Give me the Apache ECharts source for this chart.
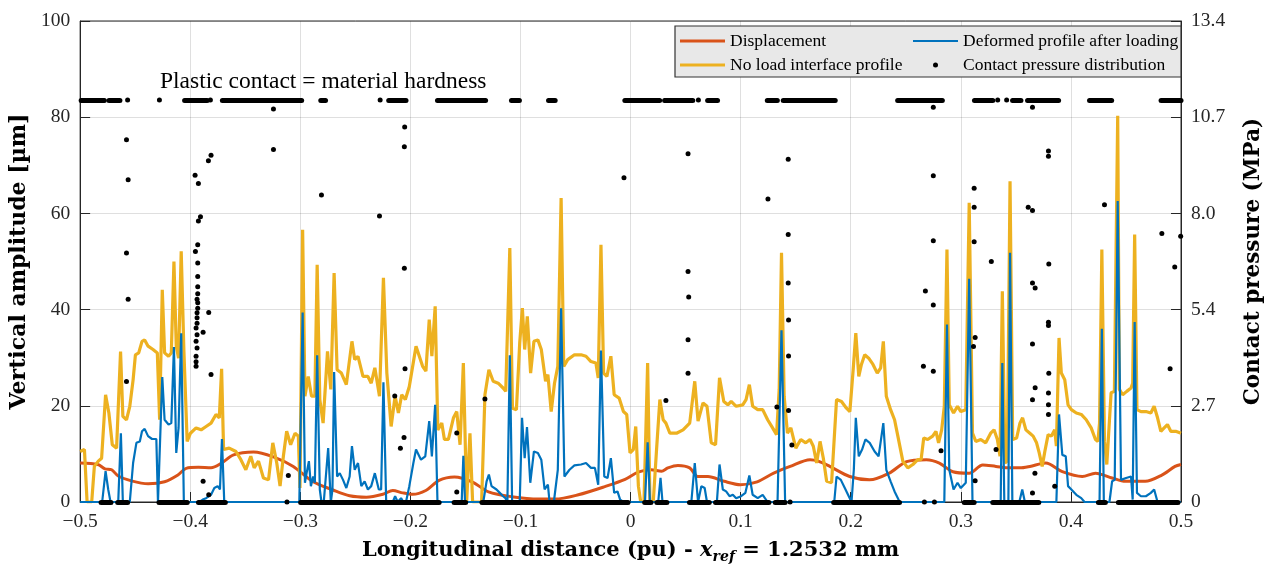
<!DOCTYPE html>
<html><head><meta charset="utf-8">
<script src="https://cdn.jsdelivr.net/npm/echarts@6/dist/echarts.min.js"></script>
<style>html,body{margin:0;padding:0;background:#fff}#c{width:1272px;height:571px}</style>
</head><body><div id="c"></div>
<script>
// ---- data (x in pu, amplitude in µm, pressure in MPa) ----
const displacement = [[-0.5,8.1],[-0.484,7.8],[-0.4775,6.9],[-0.4714,6.7],[-0.4654,5.4],[-0.4534,4.4],[-0.4383,3.8],[-0.4233,4.2],[-0.4112,5.6],[-0.4037,7.0],[-0.3926,7.2],[-0.3811,7.1],[-0.3721,8.0],[-0.3606,9.8],[-0.3425,10.4],[-0.3245,9.4],[-0.3064,7.4],[-0.2883,4.2],[-0.2703,2.5],[-0.2552,1.3],[-0.240,1.0],[-0.225,1.6],[-0.216,2.4],[-0.207,1.9],[-0.198,1.6],[-0.186,2.4],[-0.174,4.5],[-0.160,5.2],[-0.144,4.2],[-0.129,2.1],[-0.108,1.1],[-0.0835,0.6],[-0.0685,0.6],[-0.0474,1.5],[-0.0233,3.2],[-0.005,4.7],[0.0068,6.2],[0.0185,6.7],[0.0281,6.4],[0.0339,7.1],[0.043,7.6],[0.0537,7.1],[0.061,5.3],[0.0703,5.3],[0.085,4.3],[0.0998,3.6],[0.115,4.2],[0.130,6.0],[0.145,7.4],[0.163,8.8],[0.1705,8.5],[0.181,7.4],[0.199,5.3],[0.217,4.6],[0.235,6.0],[0.2507,8.4],[0.2687,8.8],[0.2805,8.1],[0.2928,6.3],[0.3076,6.0],[0.3199,7.7],[0.3319,7.4],[0.3447,7.1],[0.3537,7.1],[0.3627,7.4],[0.3771,8.1],[0.3922,6.3],[0.4103,5.3],[0.4223,6.0],[0.4374,5.0],[0.4494,4.3],[0.4675,4.3],[0.4826,5.6],[0.4946,7.4],[0.5,7.8]];

const noLoadProfile = [[-0.5,10.5],[-0.4961,10.9],[-0.4937,0],[-0.4895,0],[-0.4871,7.4],[-0.4835,8.5],[-0.4805,9.1],[-0.4769,22.3],[-0.4739,18.5],[-0.4708,11.9],[-0.4669,11.2],[-0.4654,11.2],[-0.4633,31.3],[-0.4612,17.8],[-0.4579,17.1],[-0.4549,19.9],[-0.4519,25.4],[-0.4498,30.6],[-0.4468,31.0],[-0.4438,33.4],[-0.4414,33.7],[-0.4383,32.4],[-0.4338,31.7],[-0.4299,31.0],[-0.4278,17.1],[-0.4254,44.1],[-0.4233,31.0],[-0.4197,30.3],[-0.4172,31.0],[-0.4148,50.0],[-0.4127,32.4],[-0.4106,29.9],[-0.4082,52.1],[-0.4058,31.7],[-0.4028,12.6],[-0.3998,14.3],[-0.3947,15.4],[-0.3901,15.0],[-0.3856,15.7],[-0.3811,16.4],[-0.3766,18.2],[-0.3736,17.5],[-0.3715,27.7],[-0.3697,10.9],[-0.3646,11.2],[-0.3585,10.5],[-0.3540,8.8],[-0.3495,6.7],[-0.3450,9.5],
[-0.3419,7.1],[-0.3380,8.5],[-0.3335,5.0],[-0.3289,4.6],[-0.3250,12.3],[-0.3214,8.1],[-0.3184,3.3],[-0.3154,9.5],[-0.3124,14.7],[-0.3088,11.9],[-0.3048,14.3],[-0.3018,13.7],[-0.3003,2.9],[-0.2979,56.6],[-0.2958,22.0],[-0.2928,26.1],[-0.2898,22.0],[-0.2868,22.0],[-0.2847,49.3],[-0.2823,21.3],[-0.2793,16.4],[-0.2753,31.3],[-0.2723,23.4],[-0.2693,47.6],[-0.2666,27.5],[-0.2627,26.8],[-0.2582,24.4],[-0.2531,33.4],[-0.2506,29.6],[-0.2476,30.3],[-0.2431,26.1],[-0.2386,26.1],[-0.2356,24.7],[-0.2323,27.9],[-0.2281,22.0],[-0.2245,46.6],[-0.2214,26.8],[-0.2175,15.7],[-0.2139,22.0],[-0.2109,18.5],[-0.2079,22.3],[-0.2046,21.3],[-0.2010,24.0],[-0.1949,32.4],[-0.1889,28.2],[-0.1859,27.2],[-0.1829,37.9],[-0.1805,30.3],[-0.1775,40.7],
[-0.1751,15.0],[-0.1715,16.4],[-0.1691,13.0],[-0.1655,13.0],[-0.1609,17.5],[-0.1579,18.8],[-0.1549,11.9],[-0.1519,28.9],[-0.1489,0],[-0.1459,14.3],[-0.1435,0],[-0.1353,0],[-0.1323,22.3],[-0.1287,27.5],[-0.1248,25.1],[-0.1203,24.7],[-0.1158,23.7],[-0.1134,23.0],[-0.1097,52.8],[-0.1073,19.5],[-0.1037,19.2],[-0.1007,33.1],[-0.0983,40.3],[-0.0962,31.7],[-0.0938,38.6],[-0.0908,26.8],[-0.0878,33.4],[-0.0842,33.7],[-0.0811,31.7],[-0.0772,25.1],[-0.0751,26.5],[-0.0721,18.8],[-0.0691,24.7],[-0.0661,28.2],[-0.0631,63.2],[-0.0607,28.2],[-0.0571,29.6],[-0.0510,30.6],[-0.0450,30.6],[-0.0405,30.3],[-0.0360,29.2],[-0.0315,28.9],[-0.0294,25.8],[-0.0269,53.5],[-0.0245,26.8],[-0.0215,26.1],[-0.0179,30.3],[-0.0149,22.3],[-0.0104,21.6],[-0.0065,18.8],
[-0.0035,18.2],[-0.0005,10.2],[0.0025,10.9],[0.0047,15.7],[0.0071,3.3],[0.0092,0],[0.0122,0],[0.0155,28.9],[0.0176,0],[0.0206,0],[0.0236,10.9],[0.0266,21.3],[0.0296,17.1],[0.0321,16.4],[0.0357,14.3],[0.0417,14.3],[0.0477,15.0],[0.0537,16.4],[0.0583,25.1],[0.0613,16.8],[0.0658,20.6],[0.0694,19.9],[0.0733,12.3],[0.0772,11.9],[0.0808,25.8],[0.0847,20.9],[0.0884,20.2],[0.0914,20.9],[0.0959,19.9],[0.1019,20.2],[0.1049,21.3],[0.1079,24.4],[0.1109,19.9],[0.1155,19.2],[0.1200,19.2],[0.1245,17.1],[0.1290,15.4],[0.1326,14.0],[0.1350,23.4],[0.1371,51.8],[0.1395,22.0],[0.1425,14.3],[0.1456,15.4],[0.1501,11.2],[0.1546,13.0],[0.1591,12.3],
[0.1630,13.0],[0.1660,11.6],[0.1690,8.1],[0.1721,12.6],[0.1751,9.1],[0.1781,4.3],[0.1826,4.0],[0.1871,21.3],[0.1916,20.9],[0.1961,19.5],[0.1992,18.8],[0.2022,27.5],[0.2046,35.1],[0.2073,26.1],[0.2097,28.6],[0.2127,30.6],[0.2163,29.9],[0.2202,28.6],[0.2241,26.8],[0.2272,27.9],[0.2296,33.4],[0.2323,22.0],[0.2362,19.2],[0.2398,17.1],[0.2428,13.7],[0.2473,8.5],[0.2518,7.1],[0.2564,7.8],[0.2609,8.8],[0.2639,8.8],[0.2663,13.3],[0.2699,13.0],[0.2744,13.7],[0.2774,14.7],[0.2798,12.3],[0.2826,15.0],[0.2850,19.9],[0.2874,52.5],[0.2895,20.2],[0.2934,18.5],[0.2970,19.9],[0.3000,18.8],[0.3045,19.2],[0.3076,62.2],[0.3106,14.3],[0.3136,12.6],[0.3181,13.0],[0.3226,12.3],[0.3271,14.3],
[0.3302,15.0],[0.3332,13.0],[0.3356,9.5],[0.3377,43.8],[0.3401,8.1],[0.3422,8.5],[0.3447,66.7],[0.3471,13.0],[0.3507,13.3],[0.3537,16.4],[0.3561,17.5],[0.3591,15.0],[0.3627,14.3],[0.3657,13.7],[0.3688,12.3],[0.3712,10.2],[0.3739,7.4],[0.3763,10.5],[0.3793,14.0],[0.3823,13.7],[0.3853,15.0],[0.3868,11.6],[0.3892,34.1],[0.3913,26.8],[0.3944,25.4],[0.3974,20.2],[0.4004,19.2],[0.4049,18.5],[0.4094,18.2],[0.4139,17.1],[0.4184,15.4],[0.4223,13.0],[0.4245,12.6],[0.4260,16.4],[0.4281,52.5],[0.4305,12.6],[0.4326,7.8],[0.4344,7.4],[0.4365,22.7],[0.4395,23.0],[0.4425,80.3],[0.4440,23.4],[0.4470,22.3],[0.4507,23.0],[0.4546,23.7],[0.4561,24.7],[0.4579,55.6],[0.4600,19.2],[0.4636,18.8],[0.4681,18.8],[0.4726,18.5],[0.4756,19.9],[0.4787,17.5],[0.4817,14.7],[0.4847,15.4],[0.4877,16.1],[0.4907,14.7],[0.4952,14.7],[0.5,14.3]];

const deformedProfile = [[-0.5,0],[-0.4800,0],[-0.4769,6.4],[-0.4745,2.6],[-0.4724,0],[-0.4654,0],[-0.4630,14.3],[-0.4612,0],[-0.4549,0],[-0.4519,8.1],[-0.4489,12.3],[-0.4458,12.6],[-0.4438,14.7],[-0.4414,15.2],[-0.4383,13.7],[-0.4347,13.1],[-0.4308,13.1],[-0.4293,0],[-0.4278,0],[-0.4254,26.0],[-0.4233,17.1],[-0.4197,16.1],[-0.4172,16.4],[-0.4148,32.2],[-0.4127,10.2],[-0.4106,15.4],[-0.4082,35.1],[-0.4058,0],[-0.3917,0],[-0.3886,0.5],[-0.3856,0.8],[-0.3811,1.5],[-0.3781,2.9],[-0.3751,3.3],[-0.3730,2.6],[-0.3712,13.1],[-0.3691,0],
[-0.3009,0],[-0.2979,39.4],[-0.2958,4.0],[-0.2943,6.0],[-0.2922,8.5],[-0.2904,3.3],[-0.2883,5.3],[-0.2868,4.0],[-0.2847,30.5],[-0.2823,2.6],[-0.2808,0],[-0.2787,0],[-0.2747,11.2],[-0.2723,0],[-0.2708,2.6],[-0.2693,27.0],[-0.2666,5.3],[-0.2642,6.0],[-0.2612,4.6],[-0.2582,2.9],[-0.2552,5.3],[-0.2531,11.6],[-0.2506,6.7],[-0.2476,8.1],[-0.2446,3.3],[-0.2416,4.3],[-0.2386,2.6],[-0.2356,3.3],[-0.2323,6.0],[-0.2287,2.6],[-0.2266,2.6],[-0.2245,24.9],[-0.2220,0],[-0.2160,0],[-0.2139,1.2],[-0.2115,0],[-0.2085,0.8],[-0.2064,0],[-0.2040,0],[-0.2010,3.3],[-0.1973,8.1],[-0.1949,10.9],[-0.1904,8.8],[-0.1865,9.5],[-0.1829,16.8],[-0.1805,9.5],[-0.1775,20.2],[-0.1754,0],
[-0.1534,0],[-0.1519,9.6],[-0.1504,0],[-0.1338,0],[-0.1308,4.3],[-0.1287,5.7],[-0.1263,3.3],[-0.1218,2.6],[-0.1188,1.9],[-0.1158,1.2],[-0.1137,0.8],[-0.1119,0],[-0.1097,30.5],[-0.1076,0],[-0.1007,0],[-0.0986,17.5],[-0.0962,9.1],[-0.0941,15.6],[-0.0911,4.0],[-0.0878,10.5],[-0.0842,10.2],[-0.0811,8.8],[-0.0781,2.6],[-0.0751,3.6],[-0.0736,0],[-0.0697,0],[-0.0661,6.7],[-0.0631,40.3],[-0.0601,5.3],[-0.0555,6.7],[-0.0510,7.6],[-0.0450,7.8],[-0.0405,8.1],[-0.0360,7.1],[-0.0324,7.1],[-0.0294,3.6],[-0.0269,31.5],[-0.0239,5.3],[-0.0209,5.0],[-0.0179,9.1],[-0.0149,1.9],[-0.0119,2.2],[-0.0095,0.5],[-0.0065,0],
[0.0131,0],[0.0155,12.4],[0.0176,0],[0.0251,0],[0.0272,5.0],[0.0290,0],[0.0552,0],[0.0583,8.1],[0.0613,0],[0.0643,3.3],[0.0673,2.9],[0.0694,0],[0.0784,0],[0.0808,7.8],[0.0838,2.6],[0.0868,2.2],[0.0899,1.2],[0.0929,1.5],[0.0959,0.8],[0.1004,1.2],[0.1043,1.9],[0.1079,5.5],[0.1109,1.5],[0.1155,0.8],[0.1200,1.5],[0.1245,0],[0.1335,0],[0.1371,35.7],[0.1404,0],
[0.1850,0],[0.1871,5.3],[0.1910,4.6],[0.1946,2.9],[0.1982,1.2],[0.2007,0],[0.2028,6.7],[0.2046,17.5],[0.2073,9.5],[0.2103,10.9],[0.2133,13.0],[0.2172,12.3],[0.2217,10.5],[0.2253,9.5],[0.2296,16.4],[0.2323,6.7],[0.2362,4.3],[0.2398,2.2],[0.2428,0.8],[0.2443,0],[0.2850,0],[0.2874,36.9],[0.2895,6.7],[0.2934,2.6],[0.2970,4.0],[0.3000,2.9],[0.3045,4.0],[0.3076,46.4],[0.3106,0],
[0.3362,0],[0.3377,28.9],[0.3395,0],[0.3432,0],[0.3447,51.8],[0.3468,0],[0.3531,0],[0.3558,2.6],[0.3582,0],[0.3868,0],[0.3892,18.2],[0.3922,9.8],[0.3953,9.5],[0.3974,3.3],[0.4004,2.6],[0.4049,1.5],[0.4094,0.8],[0.4124,0],[0.4260,0],[0.4281,36.0],[0.4299,0],[0.4350,0],[0.4374,4.3],[0.4398,4.6],[0.4425,62.6],[0.4455,4.6],[0.4501,5.0],[0.4546,5.3],[0.4561,0.5],[0.4579,37.4],[0.4600,1.9],[0.4636,1.2],[0.4681,1.2],[0.4726,1.9],[0.4756,2.6],[0.4787,0],[0.5,0]];

// contact pressure: isolated samples [x, MPa]
const pressurePoints = [[-0.4579,10.09],[-0.4564,8.98],[-0.4579,6.94],[-0.4564,5.65],[-0.4579,3.36],
[-0.3956,9.10],[-0.3926,8.87],[-0.3835,9.51],[-0.3811,9.66],[-0.3907,7.95],[-0.3926,7.83],[-0.3932,7.17],[-0.3953,6.98],[-0.3932,6.66],[-0.3932,6.28],[-0.3932,6.00],[-0.3932,5.80],[-0.3938,5.65],[-0.3932,5.55],[-0.3932,5.40],[-0.3938,5.27],[-0.3938,5.13],[-0.3938,4.98],[-0.3947,4.85],[-0.3938,4.66],[-0.3947,4.48],[-0.3938,4.29],[-0.3947,4.06],[-0.3947,3.91],[-0.3947,3.78],
[-0.3832,5.28],[-0.3883,4.73],[-0.3811,3.55],[-0.3883,0.58],[-0.3832,0.20],
[-0.3244,10.95],[-0.3244,9.82],[-0.2808,8.55],[-0.2281,7.97],[-0.2052,10.45],[-0.2055,9.90],[-0.2055,6.51],[-0.2049,3.71],[-0.2142,2.95],[-0.2058,1.80],[-0.2091,1.50],[-0.3109,0.74],
[-0.1579,1.92],[-0.1579,0.28],[-0.1323,2.87],[-0.0060,9.03],
[0.0522,9.70],[0.0522,6.42],[0.0528,5.71],[0.0522,4.52],[0.0522,3.59],[0.0321,2.83],[0.1248,8.44],[0.1432,9.55],[0.1432,7.45],[0.1432,6.10],[0.1435,5.07],[0.1435,4.07],[0.1435,2.55],[0.1329,2.65],[0.1465,1.59],
[0.2750,11.0],[0.2750,9.09],[0.2750,7.28],[0.2678,5.88],[0.2750,5.49],[0.2660,3.78],[0.2750,3.64],[0.2820,1.43],[0.3121,8.74],[0.3121,8.21],[0.3121,7.25],[0.3277,6.70],[0.3130,4.58],[0.3115,4.33],[0.3130,0.59],
[0.3320,1.46],[0.3612,8.21],[0.3651,8.12],[0.3651,11.0],[0.3796,9.78],[0.3796,9.63],[0.3799,6.63],[0.3651,6.10],[0.3675,5.96],[0.3796,5.01],[0.3796,4.92],[0.3651,4.40],[0.3799,3.59],[0.3675,3.18],[0.3651,2.85],[0.3796,3.04],[0.3796,2.71],[0.3796,2.44],[0.3673,0.80],[0.3651,0.25],[0.3853,0.44],[0.4305,8.28],[0.4826,7.48],[0.4943,6.55],[0.4997,7.40],[0.4901,3.71],
[-0.4569,11.2],[-0.4280,11.2],[-0.3817,11.2],[-0.2275,11.2],[0.0616,11.2],[0.3335,11.2],[0.3416,11.2],
[-0.3121,0],[0.1449,0],[0.2669,0],[0.2760,0]];
const hardness = 11.2; // plastic contact level, MPa
const plasticSegments = [[-0.4991,-0.4780],[-0.4738,-0.4639],[-0.4051,-0.3846],[-0.3708,-0.2988],[-0.2814,-0.2771],[-0.2197,-0.2040],[-0.1754,-0.1317],[-0.1082,-0.1010],[-0.0745,-0.0685],[-0.0052,0.0264],[0.0309,0.0565],[0.0700,0.0790],[0.1242,0.1333],[0.1387,0.1859],[0.2426,0.2832],[0.3124,0.3290],[0.3470,0.3546],[0.3606,0.3888],[0.4169,0.4370],[0.4819,0.5]];
const zeroSegments = [[-0.4810,-0.4720],[-0.4659,-0.4569],[-0.4284,-0.4027],[-0.3925,-0.3681],[-0.2997,-0.1739],[-0.1603,-0.1498],[-0.1350,-0.0023],[0.0128,0.0185],[0.0239,0.0330],[0.0535,0.0715],[0.0772,0.1257],[0.1314,0.1404],[0.1845,0.2443],[0.3031,0.3121],[0.3290,0.3708],[0.4250,0.4313],[0.4431,0.4973]];

const serif = 'Liberation Serif';
const boldFont = 'DejaVu Serif';
const axisColor = '#262626';
const fmtX = v => Math.abs(v) < 1e-9 ? '0' : v.toFixed(1).replace('-', '\u2212');
const lineIcon = w => 'path://M0,0 L45,0 L45,' + w + ' L0,' + w + ' Z';

const chart = echarts.init(document.getElementById('c'), null, {renderer: 'canvas'});
const bandLine = (segs, v) => segs.map(s => ({coords: [[s[0], v], [s[1], v]]}));

chart.setOption({
  animation: false,
  backgroundColor: '#fff',
  grid: {left: 79, right: 86, top: 21, bottom: 69, show: true, borderColor: axisColor, borderWidth: 1, backgroundColor: 'transparent'},
  xAxis: {
    type: 'value', min: -0.5, max: 0.5, interval: 0.1,
    axisLine: {show: true, onZero: false, lineStyle: {color: axisColor}},
    axisTick: {show: true, inside: true, length: 10, lineStyle: {color: axisColor}},
    axisLabel: {formatter: fmtX, color: axisColor, fontFamily: serif, fontSize: 19.5, margin: 10},
    splitLine: {show: true, lineStyle: {color: 'rgba(38,38,38,0.15)'}},
    name: '{a|Longitudinal distance (pu) - }{i|x}{s|ref}{a| = 1.2532 mm}',
    nameLocation: 'middle', nameGap: 36,
    nameTextStyle: {
      rich: {
        a: {fontFamily: boldFont, fontWeight: 'bold', fontSize: 21, color: '#000'},
        i: {fontFamily: boldFont, fontWeight: 'bold', fontStyle: 'italic', fontSize: 21, color: '#000'},
        s: {fontFamily: boldFont, fontWeight: 'bold', fontStyle: 'italic', fontSize: 14, color: '#000', padding: [12, 0, 0, 0]}
      }
    }
  },
  yAxis: [{
    type: 'value', min: 0, max: 100, interval: 20, position: 'left',
    axisLine: {show: true, onZero: false, lineStyle: {color: axisColor}},
    axisTick: {show: true, inside: true, length: 10, lineStyle: {color: axisColor}},
    axisLabel: {color: axisColor, fontFamily: serif, fontSize: 19.5, margin: 10},
    splitLine: {show: true, lineStyle: {color: 'rgba(38,38,38,0.15)'}},
    name: 'Vertical amplitude [µm]', nameLocation: 'middle', nameGap: 42, nameRotate: 90,
    nameTextStyle: {fontFamily: boldFont, fontWeight: 'bold', fontSize: 22, color: '#000'}
  }, {
    type: 'value', min: 0, max: 13.4, interval: 2.68, position: 'right',
    axisLine: {show: true, onZero: false, lineStyle: {color: axisColor}},
    axisTick: {show: true, inside: true, length: 10, lineStyle: {color: axisColor}},
    axisLabel: {color: axisColor, fontFamily: serif, fontSize: 19.5, margin: 10, formatter: v => v === 0 ? '0' : v.toFixed(1)},
    splitLine: {show: false},
    name: 'Contact pressure (MPa)', nameLocation: 'middle', nameGap: 61, nameRotate: 90,
    nameTextStyle: {fontFamily: boldFont, fontWeight: 'bold', fontSize: 21.5, color: '#000'}
  }],
  legend: [{
    orient: 'vertical', left: 680, top: 32, padding: 0, itemGap: 6, itemWidth: 45, itemHeight: 5,
    data: [{name: 'Displacement', icon: lineIcon(3)}, {name: 'No load interface profile', icon: lineIcon(3)}],
    textStyle: {fontFamily: serif, fontSize: 17.5, color: '#000'}, z: 12
  }, {
    orient: 'vertical', left: 913, top: 32, padding: 0, itemGap: 6, itemWidth: 45, itemHeight: 5,
    data: [{name: 'Deformed profile after loading', icon: lineIcon(2.2)}, {name: 'Contact pressure distribution', icon: 'circle'}],
    textStyle: {fontFamily: serif, fontSize: 17.5, color: '#000'}, z: 12
  }],
  graphic: [
    {type: 'rect', shape: {x: 675, y: 26, width: 506, height: 51}, style: {fill: '#e8e8e8', stroke: '#333', lineWidth: 1.2}, z: 11},
    {type: 'text', left: 160, top: 70, style: {text: 'Plastic contact = material hardness', font: '23.5px "Liberation Serif"', fill: '#000'}, z: 5}
  ],
  series: [
    {name: 'Displacement', type: 'line', data: displacement, showSymbol: false, symbol: 'none', smooth: 0.3,
     lineStyle: {color: '#D95319', width: 3}, itemStyle: {color: '#D95319'}, z: 2},
    {name: 'No load interface profile', type: 'line', data: noLoadProfile, showSymbol: false, symbol: 'none',
     lineStyle: {color: '#EDB120', width: 3.2}, itemStyle: {color: '#EDB120'}, z: 3},
    {name: 'Deformed profile after loading', type: 'line', data: deformedProfile, showSymbol: false, symbol: 'none',
     lineStyle: {color: '#0072BD', width: 2.2}, itemStyle: {color: '#0072BD'}, z: 4},
    {name: 'Contact pressure distribution', type: 'scatter', yAxisIndex: 1, data: pressurePoints, symbolSize: 5,
     itemStyle: {color: '#000', opacity: 1}, clip: false, z: 6},
    {name: 'plasticBand', type: 'lines', coordinateSystem: 'cartesian2d', yAxisIndex: 1, polyline: false,
     data: bandLine(plasticSegments, hardness), lineStyle: {color: '#000', width: 5, cap: 'round', opacity: 1, curveness: 0}, z: 6, silent: true},
    {name: 'zeroBand', type: 'lines', coordinateSystem: 'cartesian2d', yAxisIndex: 1, polyline: false,
     data: bandLine(zeroSegments, 0), lineStyle: {color: '#000', width: 5, cap: 'round', opacity: 1, curveness: 0}, z: 6, silent: true, clip: false}
  ]
});
</script></body></html>
